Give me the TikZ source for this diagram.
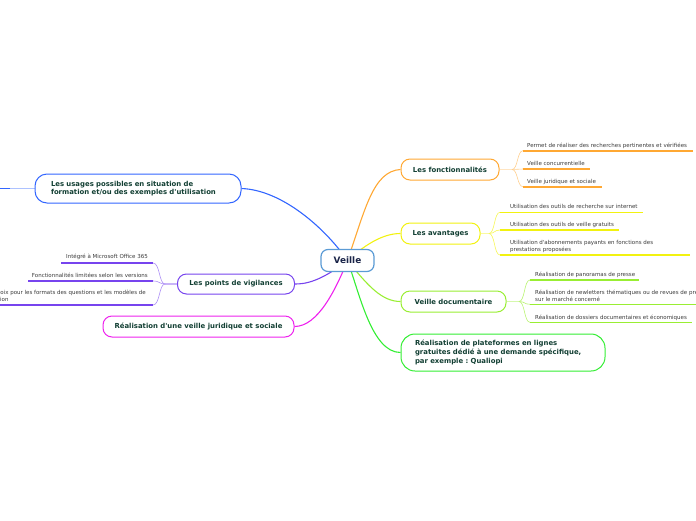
\documentclass[tikz,border=0pt]{standalone}
\usepackage{fontspec}
\setmainfont{DejaVu Sans}
\frenchspacing
\pgfdeclarelayer{background}
\pgfsetlayers{background,main}
\definecolor{cOr}{HTML}{FFA833}
\definecolor{cYe}{HTML}{F2F210}
\definecolor{cLg}{HTML}{99EE33}
\definecolor{cGr}{HTML}{33EE33}
\definecolor{cBl}{HTML}{3366FF}
\definecolor{cPu}{HTML}{7744EE}
\definecolor{cMa}{HTML}{EE22EE}
\definecolor{cVe}{HTML}{5B9BD5}
\definecolor{txt}{HTML}{123F33}
\definecolor{navy}{HTML}{1A2448}
\definecolor{subc}{HTML}{3A3A3A}
\tikzset{
  box/.style={draw, fill=white, rounded corners=9pt, line width=1pt,
    font=\fontsize{6.9}{8.6}\selectfont\bfseries, text=txt, inner sep=0pt, align=center},
  subtxt/.style={font=\fontsize{5.5}{7}\selectfont, text=subc, inner sep=0pt, align=left},
  conn/.style={line width=1.1pt},
  uline/.style={line width=1.6pt},
  twig/.style={line width=0.6pt},
  stub/.style={line width=1.5pt},
}
\begin{document}
\begin{tikzpicture}[x=1pt,y=-1pt]
\path[use as bounding box] (0,0) rectangle (696,520);

% central node
\node[box, draw=cVe, rounded corners=7pt, minimum width=53pt, minimum height=22pt,
  font=\fontsize{8.9}{10}\selectfont\bfseries, text=navy, line width=1.2pt] (veille) at (347.5,260.5) {Veille};

% main nodes
\node[box, draw=cOr, minimum width=98pt, minimum height=21pt] (fonct) at (450,169.5) {Les fonctionnalités};
\node[box, draw=cYe, minimum width=79pt, minimum height=21pt] (avant) at (440.5,233.5) {Les avantages};
\node[box, draw=cLg, minimum width=105pt, minimum height=21pt] (vdoc) at (453.5,301.5) {Veille documentaire};
\node[box, draw=cGr, rounded corners=14pt, minimum width=204pt, minimum height=37pt, text width=176pt, inner xsep=14pt, align=left] (plat) at (503,352.5)
  {Réalisation de plateformes en lignes\\gratuites dédié à une demande spécifique,\\par exemple : Qualiopi};
\node[box, draw=cBl, rounded corners=12pt, minimum width=206pt, minimum height=29pt, text width=174pt, inner xsep=16pt, align=left] (usages) at (138,188.5)
  {Les usages possibles en situation de\\formation et/ou des exemples d\textquotesingle utilisation};
\node[box, draw=cPu, minimum width=117pt, minimum height=20pt] (vigil) at (236,284) {Les points de vigilances};
\node[box, draw=cMa, minimum width=191pt, minimum height=21pt] (jurid) at (198.5,326.5) {Réalisation d\textquotesingle une veille juridique et sociale};

% sub texts right side
\node[subtxt, anchor=base west] (f1) at (527,147.2) {Permet de réaliser des recherches pertinentes et vérifiées};
\node[subtxt, anchor=base west] (f2) at (527,165.5) {Veille concurrentielle};
\node[subtxt, anchor=base west] (f3) at (527,183.2) {Veille juridique et sociale};
\coordinate (f1s) at (523,150.7); \coordinate (f1e) at (693,150.7);
\coordinate (f2s) at (523,169);   \coordinate (f2e) at (590,169);
\coordinate (f3s) at (523,186.7); \coordinate (f3e) at (601.5,186.7);
\coordinate (fb) at (512,169.5);

\node[subtxt, anchor=base west] (a1) at (510,208.6) {Utilisation des outils de recherche sur internet};
\node[subtxt, anchor=base west] (a2) at (510,226.3) {Utilisation des outils de veille gratuits};
\node[subtxt, anchor=base west] (a3a) at (510,244.5) {Utilisation d\textquotesingle abonnements payants en fonctions des};
\node[subtxt, anchor=base west] (a3b) at (510,251.5) {prestations proposées};
\coordinate (a1s) at (500,212.3); \coordinate (a1e) at (643,212.3);
\coordinate (a2s) at (500,230);   \coordinate (a2e) at (619,230);
\coordinate (a3s) at (500,255);   \coordinate (a3e) at (690,255);
\coordinate (ab) at (489,233.5);

\node[subtxt, anchor=base west] (d1) at (535,276.5) {Réalisation de panoramas de presse};
\node[subtxt, anchor=base west] (d2a) at (535,294.3) {Réalisation de newletters thématiques ou de revues de pre};
\node[subtxt, anchor=base west] (d2b) at (535,301.3) {sur le marché concerné};
\node[subtxt, anchor=base west] (d3) at (535,319) {Réalisation de dossiers documentaires et économiques};
\coordinate (d1s) at (530,280);   \coordinate (d1e) at (639,280);
\coordinate (d2s) at (530,304.3); \coordinate (d2e) at (697,304.3);
\coordinate (d3s) at (530,322.3); \coordinate (d3e) at (692,322.3);
\coordinate (db) at (519,301.5);

% sub texts left side
\node[subtxt, anchor=base east] (v1) at (148,258.8) {Intégré à Microsoft Office 365};
\node[subtxt, anchor=base east] (v2) at (148,277.2) {Fonctionnalités limitées selon les versions};
\node[subtxt, anchor=base east] (v3a) at (146,294.6) {oix pour les formats des questions et les modèles de};
\node[subtxt, anchor=base west] (v3b) at (0,301.2) {ion};
\coordinate (v1s) at (153,263); \coordinate (v1e) at (61,263);
\coordinate (v2s) at (153,281); \coordinate (v2e) at (28,281);
\coordinate (v3s) at (153,305); \coordinate (v3e) at (-2,305);
\coordinate (vb) at (165,284);

\coordinate (ub) at (10,188.5); \coordinate (ue) at (-2,188.5);

\begin{pgfonlayer}{background}
% main connectors
\draw[conn, cBl] (veille.center) .. controls (325,228) and (282,190) .. (usages.east);
\draw[conn, cOr] (veille.center) .. controls (365,210) and (373,171) .. (fonct.west);
\draw[conn, cYe] (veille.center) .. controls (368,242) and (385,233.5) .. (avant.west);
\draw[conn, cLg] (veille.center) .. controls (368,286) and (382,301.5) .. (vdoc.west);
\draw[conn, cGr] (veille.center) .. controls (360,295) and (372,352.5) .. (plat.west);
\draw[conn, cPu] (veille.center) .. controls (320,282) and (305,284) .. (vigil.east);
\draw[conn, cMa] (veille.center) .. controls (336,289) and (318,326.5) .. (jurid.east);

% fonctionnalites twigs
\draw[stub, cOr!30] (fonct.east) -- (fb);
\foreach \s in {f1s,f2s,f3s}
  \draw[twig, cOr!55] (fb) .. controls (518,169.5) and (517,0 |- \s) .. (\s);
% avantages twigs
\draw[stub, cYe!40] (avant.east) -- (ab);
\foreach \s in {a1s,a2s,a3s}
  \draw[twig, cYe!70] (ab) .. controls (495,233.5) and (494,0 |- \s) .. (\s);
% documentaire twigs
\draw[stub, cLg!40] (vdoc.east) -- (db);
\foreach \s in {d1s,d2s,d3s}
  \draw[twig, cLg!70] (db) .. controls (525,301.5) and (524,0 |- \s) .. (\s);
% vigilances twigs
\draw[stub, cPu!40] (vigil.west) -- (vb);
\foreach \s in {v1s,v2s,v3s}
  \draw[twig, cPu!60] (vb) .. controls (159,284) and (160,0 |- \s) .. (\s);
% usages stub
\draw[stub, cBl!40] (usages.west) -- (ub);
\end{pgfonlayer}

% underlines
\draw[uline, cOr] (f1s) -- (f1e);
\draw[uline, cOr] (f2s) -- (f2e);
\draw[uline, cOr] (f3s) -- (f3e);
\draw[uline, cYe] (a1s) -- (a1e);
\draw[uline, cYe] (a2s) -- (a2e);
\draw[uline, cYe] (a3s) -- (a3e);
\draw[uline, cLg] (d1s) -- (d1e);
\draw[uline, cLg] (d2s) -- (d2e);
\draw[uline, cLg] (d3s) -- (d3e);
\draw[uline, cPu] (v1s) -- (v1e);
\draw[uline, cPu] (v2s) -- (v2e);
\draw[uline, cPu] (v3s) -- (v3e);
\draw[uline, cBl] (ub) -- (ue);
\end{tikzpicture}
\end{document}
